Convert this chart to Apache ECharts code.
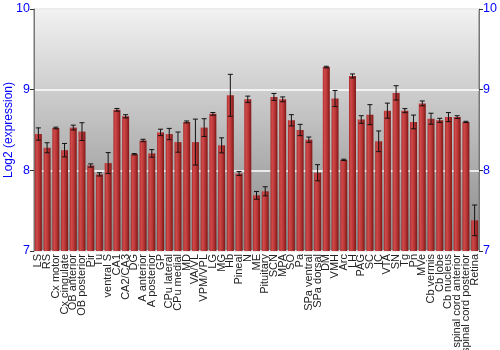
<!DOCTYPE html>
<html><head><meta charset="utf-8">
<script src="https://cdn.jsdelivr.net/npm/echarts@6/dist/echarts.min.js"></script>
<style>html,body{margin:0;padding:0;background:#fff}#c{width:500px;height:350px}</style>
</head><body><div id="c"></div>
<script>
var categories = ["LS","RS","Cx motor","Cx cingulate","OB anterior","OB posterior","Pir","Tu","ventral S","CA1","CA2/CA3","DG","A anterior","A posterior","GP","CPu lateral","CPu medial","MD","VA/VL","VPM/VPL","LG","MG","Hb","Pineal","N","ME","Pituitary","SCN","MPA","SO","Pa","SPa ventral","SPa dorsal","DM","VMH","Arc","LH","PAG","SC","IC","VTA","SN","Tg","Pn","MVe","Cb vermis","Cb lobe","Cb nucleus","spinal cord anterior","spinal cord posterior","Retina"];
var values = [8.45,8.28,8.525,8.25,8.53,8.48,8.06,7.95,8.09,8.75,8.67,8.20,8.37,8.21,8.47,8.45,8.35,8.60,8.35,8.53,8.70,8.31,8.93,7.96,8.88,7.69,7.74,8.91,8.88,8.62,8.50,8.38,7.97,9.28,8.89,8.13,9.17,8.63,8.69,8.36,8.74,8.96,8.74,8.60,8.83,8.64,8.62,8.66,8.66,8.60,7.38];
var errors = [0.076,0.062,0.01,0.083,0.03,0.11,0.02,0.02,0.13,0.017,0.02,0.008,0.015,0.047,0.04,0.07,0.125,0.012,0.285,0.11,0.017,0.093,0.26,0.025,0.04,0.048,0.056,0.043,0.03,0.07,0.07,0.033,0.1,0.01,0.1,0.008,0.025,0.047,0.124,0.128,0.093,0.089,0.025,0.085,0.03,0.068,0.025,0.056,0.017,0.008,0.19];
var yTicks = [7,8,9,10];

var chart = echarts.init(document.getElementById('c'));
var errData = values.map(function(v,i){return [i, v-errors[i], v+errors[i]];});
var ff = 'Liberation Sans, Arial, sans-serif';
chart.setOption({
  animation:false,
  grid:{left:34,right:21,top:9,bottom:99,containLabel:false,outerBoundsMode:'none',show:true,borderColor:'#777',borderWidth:1,
    backgroundColor:new echarts.graphic.LinearGradient(0,0,0,1,[{offset:0,color:'#f2f2f2'},{offset:1,color:'#868686'}])},
  xAxis:{type:'category',data:categories,
    axisLine:{show:false},axisTick:{show:false},
    axisLabel:{rotate:90,interval:0,fontSize:11,color:'#222',fontFamily:ff,margin:3}},
  yAxis:[{type:'value',min:yTicks[0],max:yTicks[yTicks.length-1],interval:1,
    name:'Log2 (expression)',nameLocation:'middle',nameGap:19,nameMoveOverlap:false,
    nameTextStyle:{color:'#0000ff',fontSize:12,fontFamily:ff},
    axisLine:{show:true,lineStyle:{color:'#777'}},axisTick:{show:true,length:4,lineStyle:{color:'#333'}},
    axisLabel:{color:'#0000ff',fontSize:12.5,margin:4,fontFamily:ff},
    splitLine:{show:true,lineStyle:{color:'#ffffff',width:1.5}}},
   {type:'value',min:yTicks[0],max:yTicks[yTicks.length-1],interval:1,position:'right',
    axisLine:{show:true,lineStyle:{color:'#777'}},axisTick:{show:true,length:4,lineStyle:{color:'#333'}},
    axisLabel:{color:'#0000ff',fontSize:12.5,margin:4,fontFamily:ff},
    splitLine:{show:false}}],
  series:[{type:'bar',data:values,barCategoryGap:'20%',
    itemStyle:{color:new echarts.graphic.LinearGradient(0,0,1,0,[{offset:0,color:'#a92a2a'},{offset:0.25,color:'#cf4a4a'},{offset:0.6,color:'#b83535'},{offset:1,color:'#7d1616'}])}},
   {type:'custom',data:errData,z:10,
    renderItem:function(params,api){
      var x=api.value(0);var lo=api.coord([x,api.value(1)]);var hi=api.coord([x,api.value(2)]);
      var hw=2.5;
      var st={stroke:'#111',lineWidth:1};
      return {type:'group',children:[
        {type:'line',shape:{x1:lo[0],y1:lo[1],x2:hi[0],y2:hi[1]},style:st},
        {type:'line',shape:{x1:lo[0]-hw,y1:lo[1],x2:lo[0]+hw,y2:lo[1]},style:st},
        {type:'line',shape:{x1:hi[0]-hw,y1:hi[1],x2:hi[0]+hw,y2:hi[1]},style:st}]};
    }}]
});
</script></body></html>
